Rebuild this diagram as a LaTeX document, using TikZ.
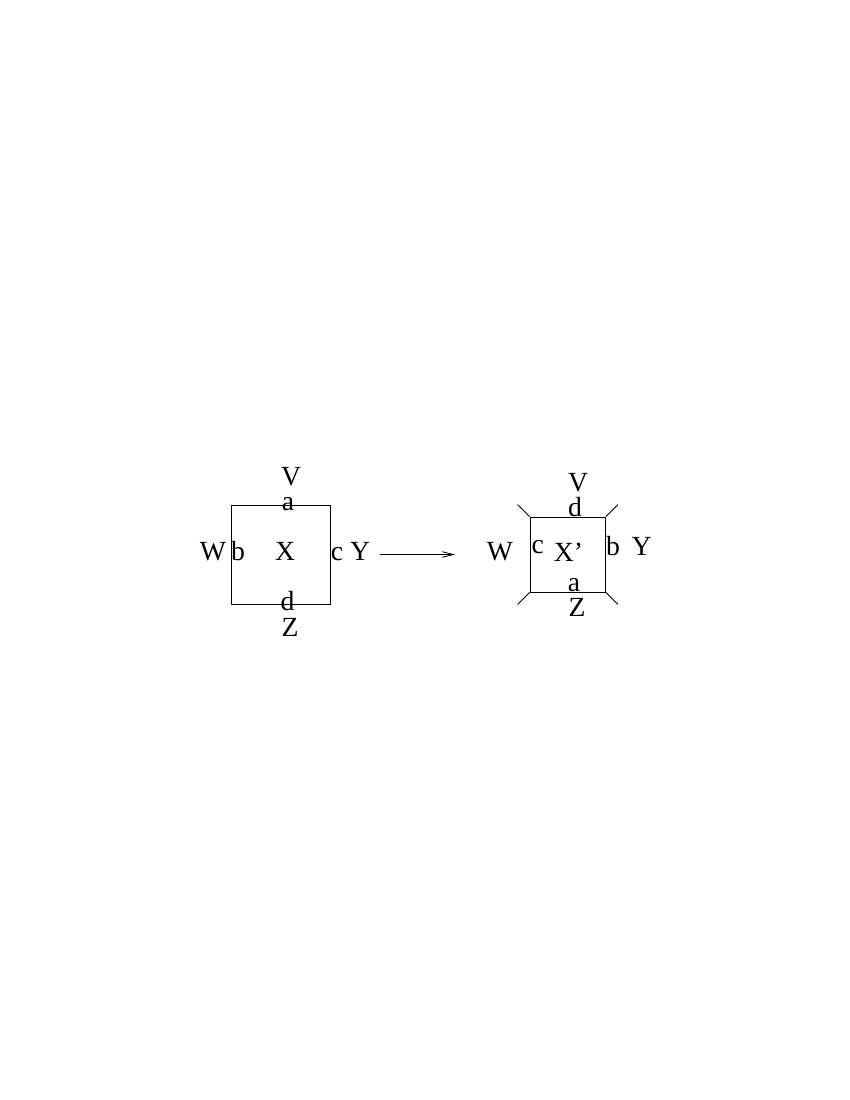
\documentclass[tikz,border=0pt]{standalone}
\usepackage{fontspec}
\setmainfont{Liberation Serif}
\newfontfamily\labfont{Liberation Serif}
\usepackage{tikz}
\usetikzlibrary{arrows.meta,positioning}

\begin{document}
\begin{tikzpicture}[x=0.01in,y=-0.01in,line width=0.6pt,
  lab/.style={anchor=base,inner sep=0pt,font=\labfont\fontsize{20}{24}\selectfont},
  facebox/.style={draw,inner sep=0pt}]
\useasboundingbox (0,0) rectangle (850,1100);

% square before the move
\node[facebox,minimum width=0.99in,minimum height=0.99in] (sqL) at (280.5,554.5) {};
\node[lab] (vL) at (291,485) {V};
\node[lab] (aL) at (288,510) {a};
\node[lab] (wL) at (213,560) {W};
\node[lab] (bL) at (238,560) {b};
\node[lab] (xL) at (285,560) {X};
\node[lab] (cL) at (337,560) {c};
\node[lab] (yL) at (360,560) {Y};
\node[lab] (dL) at (287.5,610) {d};
\node[lab] (zL) at (290,636) {Z};

% the move
\coordinate (arrS) at (380,554.5);
\coordinate (arrE) at (455,554.5);
\draw[-{Straight Barb[length=8pt,width=4pt]}] (arrS) -- (arrE);

% square after the move
\node[facebox,minimum width=0.755in,minimum height=0.75in] (sqR) at (567.75,554.5) {};
\draw (sqR.north west) -- ++(-12,-12);
\draw (sqR.north east) -- ++(12,-12);
\draw (sqR.south west) -- ++(-12,12);
\draw (sqR.south east) -- ++(12,12);
\node[lab] (vR) at (578,491) {V};
\node[lab] (dR) at (575,516) {d};
\node[lab] (wR) at (500,560) {W};
\node[lab] (cR) at (537.7,553) {c};
\node[lab] (xR) at (568.5,561) {X’};
\node[lab] (bR) at (613,555) {b};
\node[lab] (yR) at (641.7,555) {Y};
\node[lab] (aR) at (574,591.5) {a};
\node[lab] (zR) at (577,616.7) {Z};
\end{tikzpicture}
\end{document}
